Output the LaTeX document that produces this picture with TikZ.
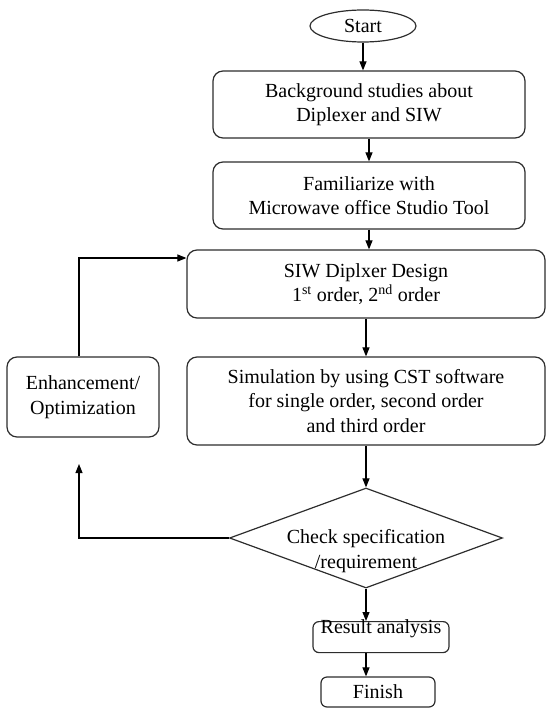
\documentclass[tikz,border=0pt]{standalone}
\usepackage{fontspec}
\setmainfont{Liberation Serif}
\usepackage{tikz}
\usetikzlibrary{arrows.meta,shapes.geometric,positioning}
\definecolor{EdgeGray}{RGB}{45,45,45}
\newcommand{\bodyfont}{\fontsize{20}{24.5}\selectfont}

\begin{document}
\begin{tikzpicture}[x=1pt,y=-1pt,
    every node/.style={font=\bodyfont,align=center,inner sep=1pt},
    term/.style={ellipse,draw=EdgeGray,line width=1.2pt,minimum width=106,minimum height=32},
    proc/.style={rectangle,rounded corners=10pt,draw=EdgeGray,line width=1.2pt},
    decide/.style={diamond,draw=EdgeGray,line width=1.2pt,minimum width=273,minimum height=100,inner sep=0pt},
    flow/.style={-{Triangle[length=9pt,width=7pt]},line width=1.1pt,black}]
  \useasboundingbox (0,0) rectangle (547,711);
  \node[term] (start) at (363,26) {Start};
  \node[proc,minimum width=312,minimum height=67] (bg) at (369,104.5) {Background studies about\\Diplexer and SIW};
  \node[proc,minimum width=312,minimum height=67] (fam) at (369,195.5) {Familiarize with\\Microwave office Studio Tool};
  \node[proc,minimum width=358,minimum height=68] (design) at (366,284) {SIW Diplxer Design\\1\textsuperscript{st} order, 2\textsuperscript{nd} order};
  \node[proc,minimum width=358,minimum height=88] (sim) at (366,401) {Simulation by using CST software\\for single order, second order\\and third order};
  \node[proc,minimum width=152,minimum height=80] (enh) at (83,397) {Enhancement/\\Optimization};
  \node[decide] (check) at (366,538) {};
  \node (checktxt) at (366,551) {Check specification\\/requirement};
  \node[proc,rounded corners=6pt,anchor=north,minimum width=136,text height=11pt,text depth=18pt] (result) at (381,621) {Result analysis};
  \node[proc,rounded corners=6pt,minimum width=114,minimum height=30] (finish) at (378,692) {Finish};
  \coordinate (back) at (79,464);
  \draw[flow] (start.south) -- (start.south |- bg.north);
  \draw[flow] (bg.south) -- (fam.north);
  \draw[flow] (fam.south) -- (fam.south |- design.north);
  \draw[flow] (design.south) -- (sim.north);
  \draw[flow] (sim.south) -- (check.north);
  \draw[flow] (check.south) -- (check.south |- result.north);
  \draw[flow] (check.south |- result.south) -- (check.south |- finish.north);
  \draw[flow] (check.west) -| (back);
  \draw[flow] ([xshift=-4pt]enh.north) |- ([yshift=26pt]design.west);
\end{tikzpicture}
\end{document}
